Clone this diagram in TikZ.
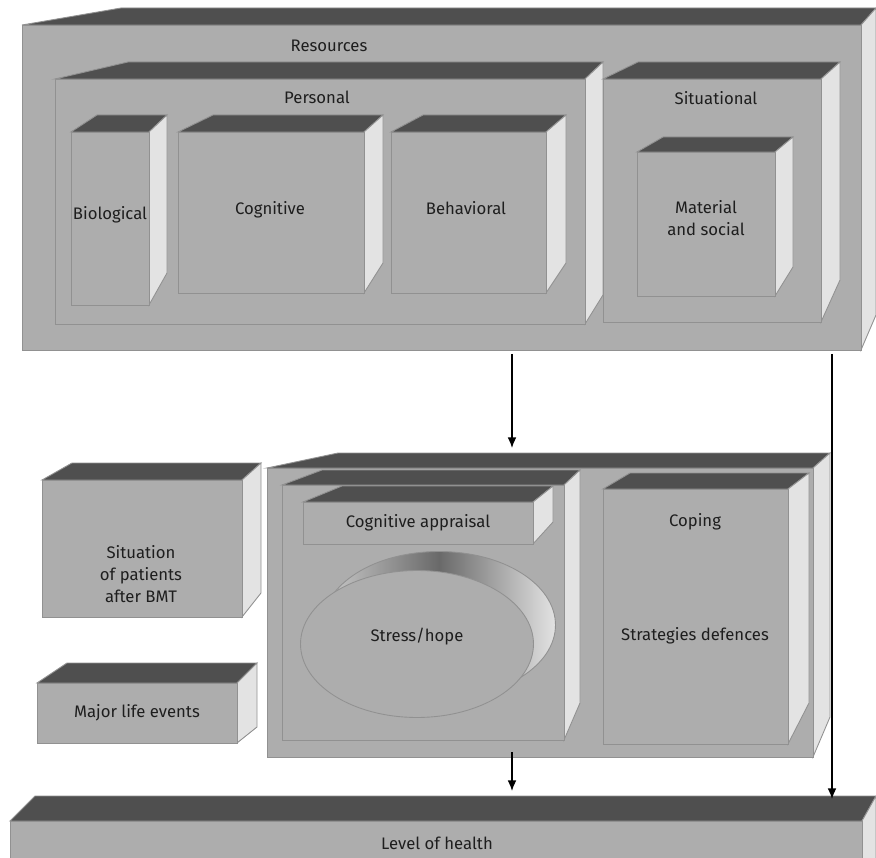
\documentclass[tikz,border=0pt]{standalone}
\usepackage{fontspec}
\setmainfont{Fira Sans}
\usepackage{tikz}
\usetikzlibrary{arrows.meta,fit,shapes.geometric}
\definecolor{facegray}{RGB}{173, 173, 173}
\definecolor{topgray}{RGB}{79, 79, 79}
\definecolor{sidegray}{RGB}{227, 227, 227}
\definecolor{edgegray}{RGB}{145, 145, 145}
\definecolor{txtgray}{RGB}{30, 30, 30}

% name, front left/top/right/bottom, back left/right, back top, back bottom
\newcommand{\cuboid}[9]{%
  \draw[topface] (#2,#3) -- (#6,#8) -- (#7,#8) -- (#4,#3) -- cycle;
  \draw[sideface] (#4,#3) -- (#7,#8) -- (#7,#9) -- (#4,#5) -- cycle;
  \node[frontface, fit={(#2,#3) (#4,#5)}] (#1) {};
}

\begin{document}
\begin{tikzpicture}[x=0.02cm, y=-0.02cm,
  topface/.style={fill=topgray, draw=edgegray, line width=0.5pt},
  sideface/.style={fill=sidegray, draw=edgegray, line width=0.5pt},
  frontface/.style={fill=facegray, draw=edgegray, line width=0.5pt, inner sep=0pt},
  lbl/.style={text=txtgray, font=\fontsize{9.5}{12.5}\selectfont, align=center, inner sep=1pt},
  arrow/.style={-{Latex[length=6pt,width=5pt]}, line width=0.8pt}]
\useasboundingbox (0,0) rectangle (876,858);

% Resources block
\cuboid{resources}{22}{25}{861}{350}{121}{876}{8}{315}
\node[lbl] (lresources) at (329,46) {Resources};

\cuboid{personal}{55}{79}{585}{324}{128}{603}{62}{295}
\node[lbl] (lpersonal) at (317,97) {Personal};
\cuboid{situational}{603}{79}{821}{322}{638}{840}{62}{280}
\node[lbl] (lsituational) at (716,98) {Situational};

% Personal resources
\cuboid{biological}{71}{132}{149}{305}{97}{167}{115}{273}
\node[lbl] (lbiological) at (110,215) {Biological};
\cuboid{cognitive}{178}{132}{364}{293}{213}{383}{115}{263}
\node[lbl] (lcognitive) at (270,210) {Cognitive};
\cuboid{behavioral}{391}{132}{546}{293}{423}{566}{115}{263}
\node[lbl] (lbehavioral) at (466,208) {Behavioral};

% Situational resources
\cuboid{material}{637}{152}{775}{296}{663}{793}{137}{267}
\node[lbl] (lmaterial) at (706,218) {Material\\and social};

% Left column
\cuboid{situation}{42}{480}{242}{617}{72}{261}{463}{593}
\node[lbl] (lsituation) at (141,574) {Situation\\of patients\\after BMT};
\cuboid{events}{37}{683}{237}{743}{67}{257}{663}{727}
\node[lbl] (levents) at (137,713) {Major life events};

% Appraisal and coping
\cuboid{middle}{267}{468}{813}{757}{338}{830}{453}{717}
\cuboid{evalbox}{282}{485}{564}{740}{322}{580}{470}{703}
\cuboid{appraisal}{303}{502}{533}{544}{342}{553}{486}{522}
\node[lbl] (lappraisal) at (418,523) {Cognitive appraisal};
\cuboid{coping}{603}{489}{788}{744}{630}{809}{473}{703}
\node[lbl] (lcoping) at (695,522) {Coping};
\node[lbl] (lstrategies) at (695,636) {Strategies defences};

% Stress/hope disc
\node[ellipse, draw=edgegray, line width=0.5pt, minimum width=4.66cm, minimum height=2.94cm,
  left color=sidegray!90!black, right color=sidegray, middle color=topgray!85] (stressback) at (439,625) {};
\node[ellipse, draw=edgegray, line width=0.5pt, fill=facegray, minimum width=4.66cm,
  minimum height=2.94cm] (stress) at (417,644) {};
\node[lbl] (lstress) at (417,637) {Stress/hope};

% Level of health
\cuboid{health}{10}{821}{862}{880}{35}{876}{796}{860}
\node[lbl] (lhealth) at (437,843) {Level of health};

% Arrows
\coordinate (midIn) at (512,448);
\coordinate (healthIn) at (512,791);
\coordinate (sideIn) at (832,799);
\draw[arrow] ([yshift=-2pt]resources.south -| midIn) -- (midIn);
\draw[arrow] ([yshift=3pt]middle.south -| healthIn) -- (healthIn);
\draw[arrow] ([yshift=-2pt]resources.south -| sideIn) -- (sideIn);
\end{tikzpicture}
\end{document}
